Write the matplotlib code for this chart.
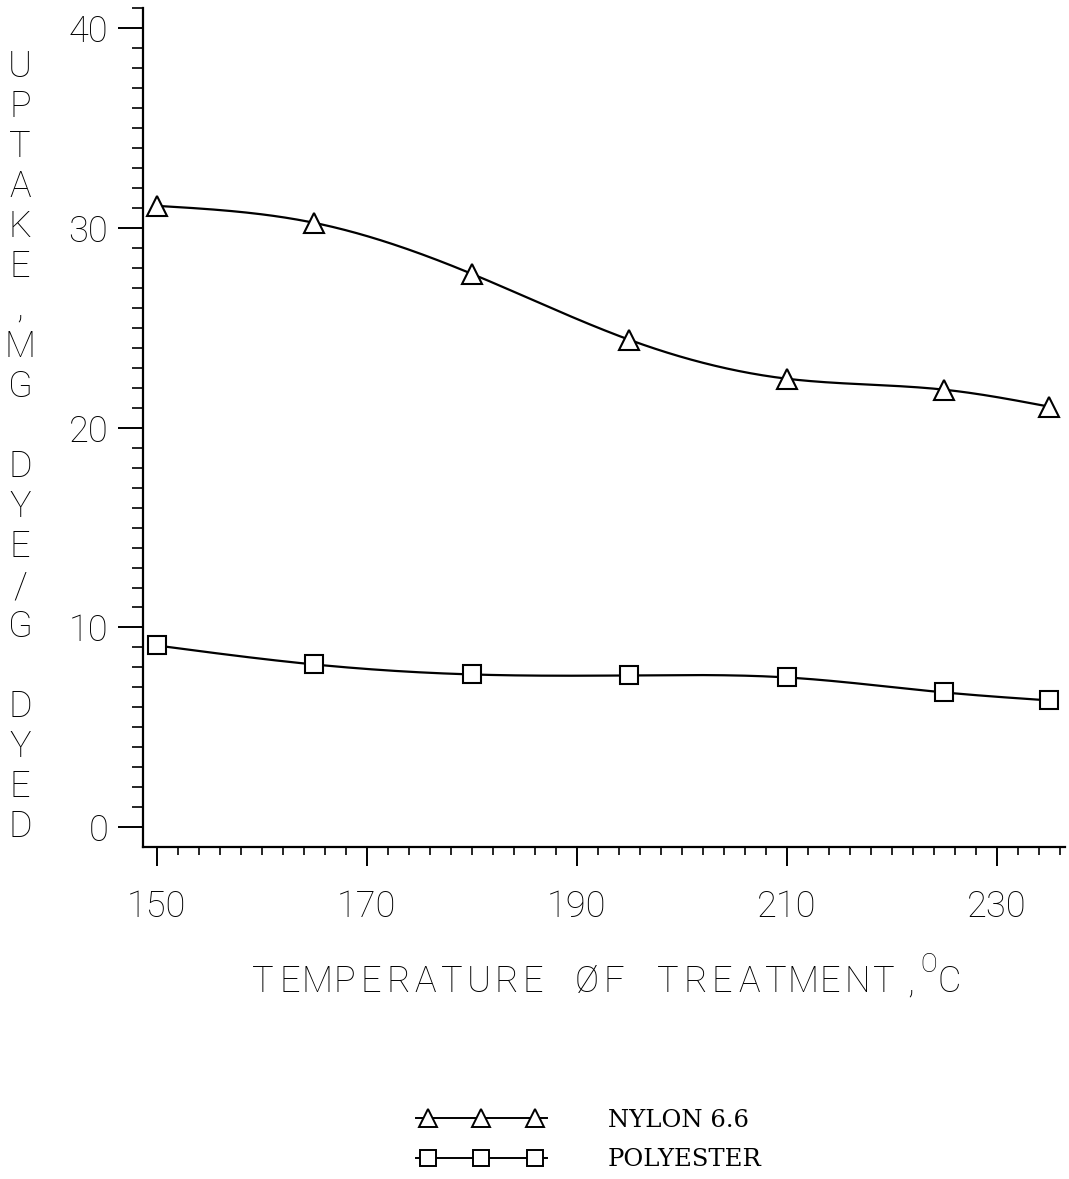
import numpy as np
import matplotlib
matplotlib.use('Agg')
import matplotlib.pyplot as plt
from matplotlib.ticker import MultipleLocator
from matplotlib.legend_handler import HandlerLine2DCompound

# dye uptake vs. heat-treatment temperature
temps = [150, 165, 180, 195, 210, 225, 235]
nylon = [31.1, 30.25, 27.7, 24.4, 22.45, 21.9, 21.05]
polyester = [9.1, 8.15, 7.65, 7.6, 7.5, 6.75, 6.35]

ylabel_chars = list("UPTAKE,MG DYE/G DYED")
xlabel_text = "TEMPERATURE \u00d8F TREATMENT,"


def natural_spline(x, y, n=300):
	# natural cubic spline through the points, for a smooth plotted curve
	x = np.asarray(x, float)
	y = np.asarray(y, float)
	k = len(x)
	h = np.diff(x)
	A = np.zeros((k, k))
	r = np.zeros(k)
	A[0, 0] = 1
	A[-1, -1] = 1
	for i in range(1, k - 1):
		A[i, i - 1] = h[i - 1]
		A[i, i] = 2 * (h[i - 1] + h[i])
		A[i, i + 1] = h[i]
		r[i] = 6 * ((y[i + 1] - y[i]) / h[i] - (y[i] - y[i - 1]) / h[i - 1])
	m = np.linalg.solve(A, r)
	xs = np.linspace(x[0], x[-1], n)
	idx = np.clip(np.searchsorted(x, xs) - 1, 0, k - 2)
	x0, x1 = x[idx], x[idx + 1]
	y0, y1 = y[idx], y[idx + 1]
	m0, m1 = m[idx], m[idx + 1]
	hh = x1 - x0
	t1 = x1 - xs
	t0 = xs - x0
	ys = (m0 * t1**3 + m1 * t0**3) / (6 * hh) + (y0 / hh - m0 * hh / 6) * t1 + (y1 / hh - m1 * hh / 6) * t0
	return xs, ys


class LongLineHandler(HandlerLine2DCompound):
	# legend key whose line runs a little past the outer markers
	def create_artists(self, legend, orig_handle, xdescent, ydescent, width, height, fontsize, trans):
		arts = super().create_artists(legend, orig_handle, xdescent, ydescent, width, height, fontsize, trans)
		line = arts[0]
		xd = line.get_xdata()
		ext = 0.5 * fontsize
		line.set_xdata([xd[0] - ext, xd[-1] + ext])
		line.set_ydata(line.get_ydata()[:2])
		return arts


plt.rcParams['font.family'] = ['Roboto', 'DejaVu Sans']
plt.rcParams['font.weight'] = 'light'

W, H = 1069, 1179
fig = plt.figure(figsize=(W / 100, H / 100), dpi=100)
ax = fig.add_axes([143 / W, 332.3 / H, (1065 - 143) / W, (846.7 - 8) / H])

for vals, mk, ms in [(nylon, '^', 14), (polyester, 's', 13)]:
	xs, ys = natural_spline(temps, vals)
	ax.plot(xs, ys, color='black', lw=1.6)
	ax.plot(temps, vals, ls='none', marker=mk, ms=ms, mfc='white', mec='black', mew=1.5)

# legend handles
h1, = ax.plot([], [], color='black', lw=1.4, marker='^', ms=13, mfc='white', mec='black', mew=1.4)
h2, = ax.plot([], [], color='black', lw=1.4, marker='s', ms=12, mfc='white', mec='black', mew=1.4)

ax.set_xlim(148.7, 236.5)
ax.set_ylim(-0.97, 41.0)

for s in ['top', 'right']:
	ax.spines[s].set_visible(False)
for s in ['left', 'bottom']:
	ax.spines[s].set_linewidth(1.6)

ax.xaxis.set_minor_locator(MultipleLocator(2))
ax.yaxis.set_major_locator(MultipleLocator(10))
ax.yaxis.set_minor_locator(MultipleLocator(1))
ax.set_xticks([150, 170, 190, 210, 230])

ax.tick_params(axis='x', which='major', direction='out', length=13.5, width=1.4, pad=17, labelsize=26)
ax.tick_params(axis='x', which='minor', direction='out', length=6, width=1.2)
ax.tick_params(axis='y', which='major', direction='out', length=18, width=1.4, pad=7, labelsize=26)
ax.tick_params(axis='y', which='minor', direction='out', length=8, width=1.2)

# axis titles, one character per cell like a pen plotter
for i, ch in enumerate(xlabel_text):
	fig.text((263 + 27 * i) / W, 1 - 982 / H, ch, ha='center', va='center', fontsize=26)
fig.text(929 / W, 1 - 965 / H, 'O', ha='center', va='center', fontsize=18)
fig.text(949 / W, 1 - 982 / H, 'C', ha='center', va='center', fontsize=26)

for i, ch in enumerate(ylabel_chars):
	fig.text(20 / W, 1 - (67 + 40 * i) / H, ch, ha='center', va='center', fontsize=26)

fig.legend([h1, h2], ['NYLON 6.6', 'POLYESTER'], loc='center left',
	bbox_to_anchor=(411 / W, 1 - 1140 / H), frameon=False, numpoints=3,
	borderaxespad=0, prop={'family': 'DejaVu Serif', 'size': 17.5},
	handlelength=5.0, handletextpad=2.7, labelspacing=0.68,
	handler_map={h1: LongLineHandler(), h2: LongLineHandler()})

fig.savefig('out.png', dpi=100)
